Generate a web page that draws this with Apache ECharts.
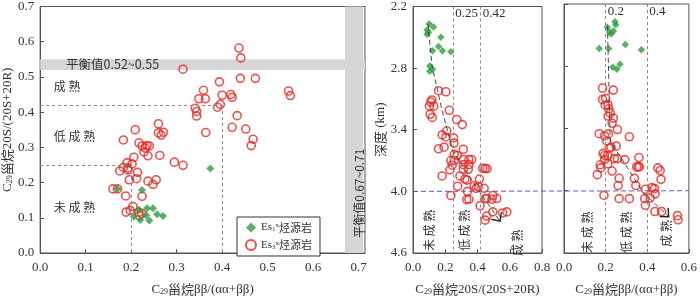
<!DOCTYPE html>
<html><head><meta charset="utf-8">
<script src="https://cdn.jsdelivr.net/npm/echarts@6/dist/echarts.min.js"></script>
<style>html,body{margin:0;padding:0;background:#fff}#c{width:700px;height:301px}</style>
</head><body><div id="c"></div><script>
// ---------- data ----------
const leftTicks = [0, 0.1, 0.2, 0.3, 0.4, 0.5, 0.6, 0.7];
const depthTicks = [2.2, 2.8, 3.4, 4.0, 4.6];
const p2Ticks = [0, 0.2, 0.4, 0.6, 0.8];
const p3Ticks = [0, 0.2, 0.4, 0.6];

// left panel: [C29 ββ/(αα+ββ), C29 20S/(20S+20R)]
const leftEs3 = [[0.314,0.522],[0.437,0.582],[0.441,0.554],[0.44,0.496],[0.473,0.496],[0.394,0.486],[0.359,0.462],[0.349,0.438],[0.363,0.438],[0.40,0.448],[0.419,0.45],[0.422,0.442],[0.396,0.422],[0.39,0.414],[0.341,0.411],[0.344,0.402],[0.344,0.389],[0.433,0.39],[0.364,0.342],[0.422,0.357],[0.452,0.352],[0.468,0.323],[0.464,0.305],[0.546,0.46],[0.55,0.447],
 [0.26,0.367],[0.209,0.35],[0.26,0.341],[0.266,0.335],[0.271,0.343],[0.217,0.313],[0.224,0.304],[0.231,0.298],[0.235,0.305],[0.24,0.304],[0.228,0.287],[0.237,0.276],[0.263,0.277],[0.183,0.321],[0.206,0.272],[0.202,0.253],[0.191,0.256],[0.193,0.241],[0.193,0.236],[0.295,0.258],[0.314,0.249],[0.214,0.229],[0.212,0.211],[0.196,0.208],[0.237,0.204],[0.255,0.208],[0.248,0.195],[0.16,0.182],[0.17,0.182],[0.175,0.233],[0.183,0.243],[0.188,0.162],[0.224,0.161],[0.204,0.132],[0.198,0.121],[0.189,0.116],[0.217,0.116],[0.223,0.112],[0.218,0.106]];
const leftEs1 = [[0.374,0.24],[0.224,0.179],[0.17,0.182],[0.235,0.127],[0.248,0.127],[0.217,0.123],[0.206,0.103],[0.22,0.094],[0.233,0.107],[0.24,0.092],[0.257,0.11],[0.27,0.105]];

// middle panel: [C29 20S/(20S+20R), depth km]
const midEs1 = [[0.10,2.37],[0.127,2.40],[0.0875,2.43],[0.096,2.45],[0.0875,2.47],[0.173,2.50],[0.158,2.59],[0.183,2.63],[0.121,2.63],[0.235,2.64],[0.104,2.78],[0.121,2.81],[0.104,2.83]];
const midEs3 = [[0.158,3.02],[0.204,3.03],[0.117,3.11],[0.11,3.13],[0.102,3.17],[0.129,3.17],[0.106,3.25],[0.119,3.28],[0.225,3.21],[0.271,3.30],[0.306,3.35],[0.21,3.41],[0.181,3.45],[0.204,3.47],[0.252,3.48],[0.254,3.53],
 [0.158,3.585],[0.193,3.57],[0.312,3.59],[0.256,3.64],[0.274,3.65],[0.235,3.70],[0.256,3.70],[0.312,3.69],[0.347,3.69],[0.364,3.69],[0.243,3.745],[0.312,3.74],[0.347,3.74],[0.229,3.79],[0.312,3.785],[0.343,3.785],[0.432,3.775],[0.447,3.775],[0.459,3.78],[0.181,3.85],[0.291,3.85],[0.322,3.88],[0.335,3.89],[0.412,3.88],[0.277,3.95],[0.38,3.945],[0.405,3.955],[0.391,3.97],[0.441,3.97],[0.337,4.0],[0.235,4.04],[0.495,4.04],[0.447,4.07],[0.457,4.07],[0.489,4.077],[0.52,4.07],[0.333,4.08],[0.347,4.077],[0.416,4.14],[0.495,4.2],[0.555,4.21],[0.582,4.2],[0.457,4.24],[0.447,4.28]];
const midTrend = [[0.093,2.37],[0.118,2.78],[0.18,3.21],[0.248,3.61],[0.415,4.01],[0.54,4.29]];

// right panel: [C29 ββ/(αα+ββ), depth km]
const rightEs1 = [[0.245,2.37],[0.249,2.40],[0.208,2.425],[0.238,2.46],[0.218,2.47],[0.226,2.49],[0.295,2.59],[0.169,2.63],[0.214,2.63],[0.372,2.64],[0.234,2.81],[0.269,2.78],[0.254,2.83]];
const rightEs3 = [[0.185,3.01],[0.237,3.03],[0.185,3.12],[0.2,3.11],[0.198,3.175],[0.211,3.17],[0.215,3.21],[0.222,3.25],[0.212,3.28],[0.237,3.30],[0.231,3.35],[0.257,3.41],[0.169,3.45],[0.214,3.45],[0.195,3.47],[0.205,3.52],[0.314,3.48],[0.251,3.57],[0.218,3.59],[0.226,3.58],[0.188,3.64],[0.195,3.66],[0.211,3.66],[0.242,3.69],[0.257,3.69],[0.292,3.70],[0.36,3.68],[0.195,3.70],[0.211,3.74],[0.174,3.75],[0.177,3.78],[0.349,3.77],[0.357,3.77],[0.362,3.77],[0.231,3.81],[0.16,3.845],[0.265,3.88],[0.338,3.88],[0.451,3.78],[0.462,3.805],[0.466,3.89],[0.26,3.95],[0.345,3.95],[0.392,3.985],[0.423,3.97],[0.435,3.98],[0.438,4.03],[0.192,4.045],[0.265,4.076],[0.314,4.076],[0.388,4.076],[0.414,4.07],[0.391,4.14],[0.437,4.2],[0.469,4.2],[0.545,4.24],[0.548,4.28]];
const rightTrend = [[0.209,2.41],[0.222,3.52],[0.38,4.015],[0.503,4.25]];

// thresholds
const eqBand20S = [0.52, 0.55];
const eqBandBB = [0.67, 0.71];
const leftLimits = { bbLow: 0.2, bbHigh: 0.4, sLow: 0.25, sHigh: 0.42 };
const midLines = [0.25, 0.42];
const rightLines = [0.2, 0.4];
const refDepth = 4.0;

// ---------- style ----------
const FONT = "'Liberation Serif','Times New Roman','Noto Sans CJK SC',serif";
const CJK = "'Noto Sans CJK SC','Liberation Serif',serif";
const RED = '#e8251f', GREEN = '#2f9d3e', AX = '#555', TXT = '#333';
const rich = {
  n: { fontSize: 13, fontFamily: FONT, color: TXT },
  c: { fontSize: 13, fontFamily: CJK, color: TXT },
  s: { fontSize: 8, fontFamily: FONT, color: TXT, verticalAlign: 'bottom', padding: [5, 0, 0, 0] }
};
function axisX(gi, min, max, ticks, name, gap) {
  return {
    type: 'value', gridIndex: gi, min, max,
    axisLine: { show: true, lineStyle: { color: AX, width: 1 } },
    axisTick: { show: true, inside: true, length: 4, customValues: ticks, lineStyle: { color: AX } },
    axisLabel: { customValues: ticks, formatter: v => v.toFixed(1), fontFamily: FONT, fontSize: 13, color: TXT, margin: 8 },
    splitLine: { show: false },
    name, nameLocation: 'middle', nameGap: gap, nameTextStyle: { rich }
  };
}
function axisY(gi, min, max, ticks, opts) {
  return Object.assign({
    type: 'value', gridIndex: gi, min, max,
    axisLine: { show: true, lineStyle: { color: AX, width: 1 } },
    axisTick: { show: true, inside: true, length: 4, customValues: ticks, lineStyle: { color: AX } },
    axisLabel: { customValues: ticks, formatter: v => v.toFixed(1), fontFamily: FONT, fontSize: 13, color: TXT, margin: 6 },
    splitLine: { show: false }
  }, opts || {});
}
const redStyle = { color: 'rgba(255,255,255,0)', borderColor: RED, borderWidth: 1.6 };
const greenStyle = { color: GREEN };
const dotted = { color: '#888', type: [3, 3], width: 1 };

const chart = echarts.init(document.getElementById('c'), null, { renderer: 'canvas' });
const gridBase = { show: true, borderColor: AX, borderWidth: 1, backgroundColor: 'rgba(0,0,0,0)' };
chart.setOption({
  animation: false,
  grid: [
    Object.assign({ left: 39, top: 4, width: 326, height: 259 }, gridBase),
    Object.assign({ left: 413, top: 4, width: 129, height: 259 }, gridBase),
    Object.assign({ left: 564, top: 4, width: 129, height: 259 }, gridBase)
  ],
  xAxis: [
    axisX(0, 0, 0.714, leftTicks, '{n|C}{s|29}{c|甾烷}{n|ββ/(αα+ββ)}', 30),
    axisX(1, 0, 0.8, p2Ticks, '{n|C}{s|29}{c|甾烷}{n|20S/(20S+20R)}', 30),
    axisX(2, 0, 0.6, p3Ticks, '{n|C}{s|29}{c|甾烷}{n|ββ/(αα+ββ)}', 30)
  ],
  yAxis: [
    axisY(0, 0, 0.7, leftTicks, { name: '{n|C}{s|29}{c|甾烷}{n|20S/(20S+20R)}', nameLocation: 'middle', nameGap: 26, nameTextStyle: { rich } }),
    axisY(1, 2.2, 4.6, depthTicks, { inverse: true, name: '{c|深度}{n| (km)}', nameLocation: 'middle', nameGap: 25, nameTextStyle: { rich } }),
    axisY(2, 2.2, 4.6, depthTicks, { inverse: true, axisLabel: { show: false, customValues: depthTicks } })
  ],
  legend: {
    left: 237, top: 217, orient: 'vertical',
    padding: [5, 8, 5, 8], itemGap: 6, itemWidth: 10, itemHeight: 10,
    borderColor: '#333', borderWidth: 1, backgroundColor: '#fff',
    data: [{ name: 'Es1', icon: 'diamond' }, { name: 'Es3', icon: 'circle' }],
    formatter: n => n === 'Es1' ? '{n|Es}{s|1}{p|x}{c|烃源岩}' : '{n|Es}{s|3}{p|x}{c|烃源岩}',
    textStyle: { rich: {
      n: { fontSize: 11, fontFamily: FONT, color: TXT },
      c: { fontSize: 11, fontFamily: CJK, color: TXT },
      s: { fontSize: 7, fontFamily: FONT, color: TXT, verticalAlign: 'bottom' },
      p: { fontSize: 7, fontFamily: FONT, color: TXT, verticalAlign: 'top' }
    } }
  },
  series: [
    { type: 'scatter', name: 'Es3', xAxisIndex: 0, yAxisIndex: 0, data: leftEs3, symbol: 'circle', symbolSize: 8, itemStyle: redStyle, z: 3,
      markArea: { silent: true, itemStyle: { color: '#d6d6d6' }, data: [
        [{ yAxis: eqBand20S[0] }, { yAxis: eqBand20S[1] }],
        [{ xAxis: eqBandBB[0] }, { xAxis: eqBandBB[1] }]
      ] },
      markLine: { silent: true, symbol: 'none', label: { show: false }, lineStyle: dotted, data: [
        [{ coord: [0, leftLimits.sHigh] }, { coord: [leftLimits.bbHigh, leftLimits.sHigh] }],
        [{ coord: [leftLimits.bbHigh, leftLimits.sHigh] }, { coord: [leftLimits.bbHigh, 0] }],
        [{ coord: [0, leftLimits.sLow] }, { coord: [leftLimits.bbLow, leftLimits.sLow] }],
        [{ coord: [leftLimits.bbLow, leftLimits.sLow] }, { coord: [leftLimits.bbLow, 0] }]
      ] } },
    { type: 'scatter', name: 'Es1', xAxisIndex: 0, yAxisIndex: 0, data: leftEs1, symbol: 'diamond', symbolSize: 8, itemStyle: greenStyle, z: 4 },
    { type: 'scatter', name: 'Es1', xAxisIndex: 1, yAxisIndex: 1, data: midEs1, symbol: 'diamond', symbolSize: 7.5, itemStyle: greenStyle, z: 4 },
    { type: 'scatter', name: 'Es3', xAxisIndex: 1, yAxisIndex: 1, data: midEs3, symbol: 'circle', symbolSize: 8, itemStyle: redStyle, z: 3,
      markLine: { silent: true, symbol: 'none', label: { show: false }, lineStyle: dotted, data: midLines.map(v => ({ xAxis: v })) } },
    { type: 'line', name: 'trend2', xAxisIndex: 1, yAxisIndex: 1, data: midTrend, symbol: 'none', lineStyle: { color: '#444', width: 1, type: [5, 3] }, z: 5 },
    { type: 'scatter', name: 'Es1', xAxisIndex: 2, yAxisIndex: 2, data: rightEs1, symbol: 'diamond', symbolSize: 7.5, itemStyle: greenStyle, z: 4 },
    { type: 'scatter', name: 'Es3', xAxisIndex: 2, yAxisIndex: 2, data: rightEs3, symbol: 'circle', symbolSize: 8, itemStyle: redStyle, z: 3,
      markLine: { silent: true, symbol: 'none', label: { show: false }, lineStyle: dotted, data: rightLines.map(v => ({ xAxis: v })) } },
    { type: 'line', name: 'trend3', xAxisIndex: 2, yAxisIndex: 2, data: rightTrend, symbol: 'none', lineStyle: { color: '#444', width: 1, type: [5, 3] }, z: 5 }
  ]
});

// ---------- annotations anchored to data coordinates ----------
const P = (g, pt) => chart.convertToPixel({ xAxisIndex: g, yAxisIndex: g }, pt);
const gr = [];
function txt(g, pt, text, opt) {
  const p = P(g, pt);
  const o = Object.assign({ align: 'left', va: 'middle', rot: 0, size: 12, font: CJK }, opt || {});
  gr.push({ type: 'text', x: p[0], y: p[1], rotation: o.rot, z: 20,
    style: { text, fill: TXT, font: o.size + 'px ' + o.font, textAlign: o.align, textVerticalAlign: o.va } });
}
txt(0, [0.03, 0.473], '成 熟');
txt(0, [0.03, 0.332], '低 成 熟');
txt(0, [0.03, 0.13], '未 成 熟');
txt(0, [0.057, 0.535], '平衡值0.52~0.55', { size: 12.5 });
txt(0, [0.702, 0.17], '平衡值0.67~0.71', { rot: Math.PI / 2, align: 'center', size: 12 });
txt(1, [0.104, 4.38], '未 成 熟', { rot: Math.PI / 2, align: 'center' });
txt(1, [0.32, 4.38], '低 成 熟', { rot: Math.PI / 2, align: 'center' });
txt(1, [0.65, 4.5], '成 熟', { rot: Math.PI / 2, align: 'center' });
txt(2, [0.115, 4.4], '未 成 熟', { rot: Math.PI / 2, align: 'center' });
txt(2, [0.301, 4.4], '低 成 熟', { rot: Math.PI / 2, align: 'center' });
txt(2, [0.492, 4.41], '成 熟', { rot: Math.PI / 2, align: 'center' });
midLines.forEach(v => txt(1, [v + 0.012, 2.27], String(v), { size: 13, font: FONT }));
rightLines.forEach(v => txt(2, [v + 0.01, 2.27], String(v), { size: 13, font: FONT }));

// blue reference depth line across both depth panels
const b0 = P(1, [0, refDepth]), b1 = P(2, [0.6, refDepth]);
gr.push({ type: 'line', z: 2, shape: { x1: b0[0], y1: b0[1], x2: b1[0], y2: b1[1] },
  style: { stroke: '#4f5fd0', lineWidth: 1, lineDash: [5, 3] } });

// arrow heads at the end of trend lines
function arrow(g, line) {
  const a = P(g, line[line.length - 2]), b = P(g, line[line.length - 1]);
  const ang = Math.atan2(a[1] - b[1], a[0] - b[0]);
  const L = 9, s = 0.75;
  const p1 = [b[0] + L * Math.cos(ang + s), b[1] + L * Math.sin(ang + s)];
  const p2 = [b[0] + L * Math.cos(ang - s), b[1] + L * Math.sin(ang - s)];
  gr.push({ type: 'polyline', z: 21, shape: { points: [p1, b, p2] }, style: { stroke: '#222', lineWidth: 1.4, fill: null } });
}
arrow(1, midTrend);
arrow(2, rightTrend);
chart.setOption({ graphic: gr });
</script></body></html>
